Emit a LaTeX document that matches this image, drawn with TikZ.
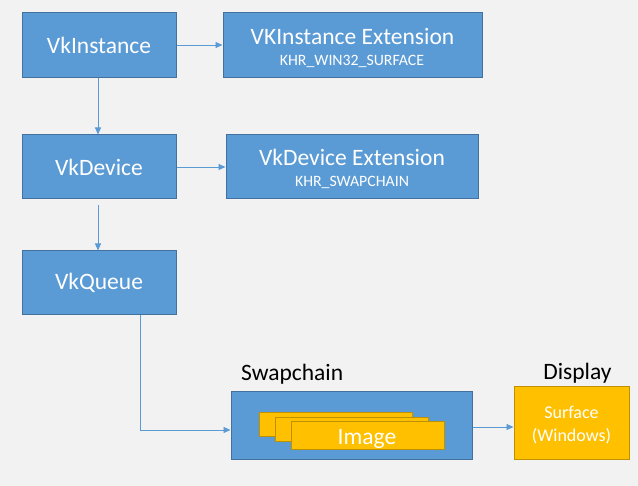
\documentclass[tikz,border=0pt]{standalone}
\usepackage{fontspec}
\setmainfont{Carlito}
\usetikzlibrary{arrows.meta}
\definecolor{bg}{HTML}{F2F2F2}
\definecolor{vkblue}{HTML}{5B9BD5}
\definecolor{vkedge}{HTML}{41719C}
\definecolor{vkyellow}{HTML}{FFC000}
\definecolor{yedge}{HTML}{BF9000}
\tikzset{
  bluebox/.style={draw=vkedge, fill=vkblue, line width=1pt, text=white, inner sep=0pt, align=center},
  yelbox/.style={draw=yedge, fill=vkyellow, line width=1pt, text=white, inner sep=0pt, align=center},
  big/.style={font=\fontsize{23.5}{26}\selectfont},
  small/.style={font=\fontsize{15.8}{18}\selectfont},
  mid/.style={font=\fontsize{18}{20}\selectfont},
  lbl/.style={inner sep=0pt, anchor=base, text=white},
  conn/.style={draw=vkblue, line width=0.9pt, -{Triangle[length=7pt,width=6pt]}},
}
\begin{document}
\begin{tikzpicture}[x=1pt,y=-1pt]
\fill[bg] (0,0) rectangle (638,486);
\useasboundingbox (0,0) rectangle (638,486);

\node[bluebox, big, minimum width=154pt, minimum height=65pt] (inst) at (99,45.5) {VkInstance};
\node[bluebox, minimum width=259pt, minimum height=65pt] (iext) at (352.5,45.5) {};
\node[lbl, big] (iextT) at (352.5,45) {VKInstance Extension};
\node[lbl, small] (iextS) at (352,66) {KHR\_WIN32\_SURFACE};

\node[bluebox, big, minimum width=154pt, minimum height=64pt] (dev) at (99,167) {VkDevice};
\node[bluebox, minimum width=252pt, minimum height=64pt] (dext) at (352,167) {};
\node[lbl, big] (dextT) at (352,166) {VkDevice Extension};
\node[lbl, small] (dextS) at (352,187) {KHR\_SWAPCHAIN};

\node[bluebox, big, minimum width=154pt, minimum height=64pt] (queue) at (99,283) {VkQueue};

\node[bluebox, minimum width=241pt, minimum height=68pt] (swap) at (351.5,426) {};
\node[big, anchor=west, inner sep=0pt] (swaplbl) at (241,374) {Swapchain};
\node[yelbox, minimum width=153pt, minimum height=24pt] (img1) at (335.5,425) {};
\node[yelbox, minimum width=153pt, minimum height=24pt] (img2) at (351.5,430) {};
\node[yelbox, minimum width=153pt, minimum height=28pt] (img3) at (367.5,436) {};
\node[lbl, big] (imgT) at (367,445) {Image};

\node[yelbox, minimum width=115pt, minimum height=73pt] (surf) at (571.5,423.5) {};
\node[lbl, mid] (surfA) at (571.5,419) {Surface};
\node[lbl, mid] (surfB) at (571.5,442) {(Windows)};
\node[big, inner sep=0pt] (displbl) at (577.5,373) {Display};

\draw[conn] (inst.east |- 0,45) -- (iext.west |- 0,45);
\draw[conn] (dev.east |- 0,167) -- (dext.west |- 0,167);
\draw[conn] (inst.south -| 98,0) -- (dev.north -| 98,0);
\draw[conn, shorten <=6pt] (dev.south -| 98,0) -- (queue.north -| 98,0);
\draw[conn] (queue.south -| 140,0) -- (140,430) -- (swap.west |- 0,430);
\draw[conn] (swap.east |- 0,427) -- (surf.west |- 0,427);
\end{tikzpicture}
\end{document}
